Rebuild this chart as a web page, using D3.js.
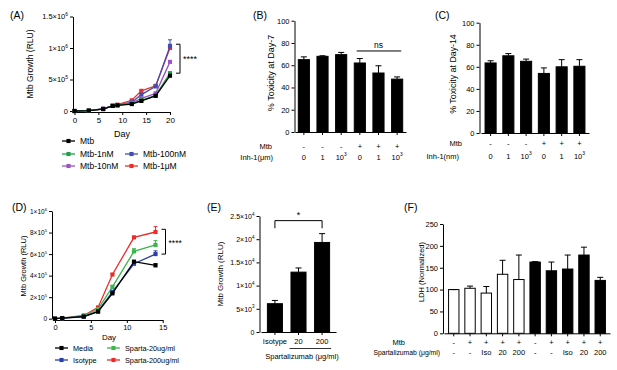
<!DOCTYPE html>
<html>
<head>
    <meta charset="utf-8">
    <title>Mtb growth and toxicity</title>
    <style>
        body { margin: 0; background: #fff; }
        svg text { font-family: Arial, "Liberation Sans", sans-serif; fill: #000; }
    </style>
</head>
<body>
<script src="https://d3js.org/d3.v7.min.js"></script>
<script>
// ---------------- data ----------------
// (A) Mtb growth with Inh-1
const daysA = [0, 3, 6, 8, 9, 12, 14, 17, 20];
const mtbA = [0, 5e3, 3.0e4, 8.0e4, 9.0e4, 1.10e5, 1.60e5, 2.40e5, 5.6e5];
const mtb1nM = [0, 5e3, 3.2e4, 8.0e4, 9.0e4, 1.20e5, 1.70e5, 2.50e5, 6.0e5];
const mtb10nM = [0, 5e3, 3.5e4, 8.5e4, 9.5e4, 1.30e5, 2.00e5, 2.80e5, 7.8e5];
const mtb100nM = [0, 5e3, 3.5e4, 8.0e4, 9.5e4, 1.40e5, 2.60e5, 3.90e5, 1.03e6];
const mtb1uM = [0, 5e3, 3.5e4, 8.5e4, 1.0e5, 1.70e5, 3.20e5, 4.00e5, 1.0e6];
const errMtbA = [0, 0, 0, 0, 0, 0, 0, 1e4, 2e4];
const err1nM = [0, 0, 0, 0, 0, 0, 0, 1e4, 2e4];
const err10nM = [0, 0, 0, 0, 0, 0, 1e4, 1e4, 2e4];
const err100nM = [0, 0, 0, 0, 0, 1e4, 2e4, 2e4, 1.0e5];
const err1uM = [0, 0, 0, 0, 0, 1e4, 1e4, 2e4, 6e4];
const yTicksA = [0, 5e5, 1e6, 1.5e6];
const yLabelsA = ["0", "5×10^5", "1×10^6", "1.5×10^6"];
const xTicksA = [0, 5, 10, 15, 20];

// (B) and (C) toxicity
const mtbSigns = ["-", "-", "-", "+", "+", "+"];
const inhDoses = ["0", "1", "10^3", "0", "1", "10^3"];
const toxDay7 = [65, 68, 69.5, 62, 53, 47.5];
const toxDay7Err = [2.5, 0.5, 2, 4, 6.5, 2];
const toxDay14 = [63.5, 70, 65, 54, 60, 60.5];
const toxDay14Err = [2, 2, 2, 5, 6.5, 6];
const pctTicks = [0, 20, 40, 60, 80, 100];

// (D) Mtb growth with spartalizumab
const daysD = [0, 1, 4, 6, 8, 11, 14];
const media = [0, 5e3, 2.0e4, 6.5e4, 2.35e5, 5.3e5, 4.95e5];
const isotype = [0, 5e3, 1.8e4, 7.0e4, 2.50e5, 5.1e5, 6.0e5];
const sparta20 = [0, 5e3, 2.5e4, 9.0e4, 2.95e5, 6.25e5, 6.85e5];
const sparta200 = [0, 5e3, 3.0e4, 1.05e5, 4.10e5, 7.55e5, 8.05e5];
const errMedia = [0, 0, 0, 0, 1e4, 1e4, 1.5e4];
const errIsotype = [0, 0, 0, 0, 1e4, 1e4, 3e4];
const errSparta20 = [0, 0, 0, 0, 1.5e4, 2.5e4, 4e4];
const errSparta200 = [0, 0, 0, 0, 1e4, 1e4, 5e4];
const yTicksD = [0, 2e5, 4e5, 6e5, 8e5, 1e6];
const yLabelsD = ["0", "2×10^5", "4×10^5", "6×10^5", "8×10^5", "1×10^6"];
const xTicksD = [0, 5, 10, 15];

// (E) growth at one timepoint
const groupsE = ["Isotype", "20", "200"];
const growthE = [6.1e3, 1.29e4, 1.93e4];
const growthEErr = [0.7e3, 0.9e3, 1.9e3];
const yTicksE = [0, 5e3, 1e4, 1.5e4, 2e4, 2.5e4];
const yLabelsE = ["0", "5×10^3", "1×10^4", "1.5×10^4", "2×10^4", "2.5×10^4"];

// (F) LDH
const mtbSignsF = ["-", "+", "+", "+", "+", "-", "+", "+", "+", "+"];
const spartaF = ["-", "-", "Iso", "20", "200", "-", "-", "Iso", "20", "200"];
const ldh = [100, 103, 92, 135, 123, 163, 143, 147, 179, 121];
const ldhErr = [0, 5, 15, 32, 56, 1, 20, 32, 18, 7];
const yTicksF = [0, 50, 100, 150, 200, 250];

// ---------------- helpers ----------------
const svg = d3.select("body").append("svg")
    .attr("width", 617)
    .attr("height", 370);

// write "5×10^5" as text with a superscript
function supText(sel, str, fs) {
    const parts = str.split("^");
    sel.text(null);
    sel.append("tspan").text(parts[0]);
    if (parts.length > 1) {
        sel.append("tspan").attr("dy", -fs * 0.45).attr("font-size", fs * 0.65).text(parts[1]);
    }
}

function yAxis(x, y, vals, labels, fs) {
    const g = svg.append("g")
        .attr("transform", "translate(" + x + ",0)")
        .call(d3.axisLeft(y).tickValues(vals).tickSize(3).tickSizeOuter(0).tickPadding(2)
            .tickFormat((d, i) => labels[i]));
    g.attr("font-family", null).attr("font-size", fs);
    g.selectAll(".tick text").each(function(d, i) { supText(d3.select(this), labels[i], fs); });
    return g;
}

function xAxis(y, scale, vals, fs) {
    const ax = d3.axisBottom(scale).tickSize(3).tickSizeOuter(0).tickPadding(2);
    if (vals) ax.tickValues(vals); else ax.tickFormat("");
    const g = svg.append("g")
        .attr("transform", "translate(0," + y + ")")
        .call(ax);
    g.attr("font-family", null).attr("font-size", fs);
    return g;
}

function yTitle(x, y, str, fs) {
    svg.append("text")
        .attr("transform", "translate(" + x + "," + y + ") rotate(-90)")
        .attr("text-anchor", "middle")
        .attr("font-size", fs)
        .text(str);
}

function label(x, y, str, fs, anchor) {
    const t = svg.append("text")
        .attr("x", x).attr("y", y)
        .attr("font-size", fs)
        .attr("text-anchor", anchor || "start");
    supText(t, str, fs);
    return t;
}

const square = d3.symbol().type(d3.symbolSquare).size(17);

function drawSeries(x, y, days, s) {
    const g = svg.append("g");
    g.append("path")
        .datum(s.values)
        .attr("fill", "none")
        .attr("stroke", s.color)
        .attr("stroke-width", 1.3)
        .attr("d", d3.line().x((d, i) => x(days[i])).y(d => y(d)));
    // error bars (upper only)
    g.selectAll("eb")
        .data(s.values)
        .enter()
        .filter((d, i) => s.err[i] > 0)
        .append("path")
        .attr("fill", "none")
        .attr("stroke", s.color)
        .attr("stroke-width", 1)
        .attr("d", function(d) {
            const i = s.values.indexOf(d);
            const cx = x(days[i]), y0 = y(d), y1 = y(d + s.err[i]);
            return "M" + cx + "," + y0 + "V" + y1 + "M" + (cx - 2) + "," + y1 + "H" + (cx + 2);
        });
    g.selectAll("pt")
        .data(s.values)
        .enter()
        .append("path")
        .attr("d", square)
        .attr("fill", s.color)
        .attr("transform", (d, i) => "translate(" + x(days[i]) + "," + y(d) + ")");
}

function legendItem(x, y, name, color, fs) {
    svg.append("line")
        .attr("x1", x).attr("x2", x + 13)
        .attr("y1", y).attr("y2", y)
        .attr("stroke", color).attr("stroke-width", 1.3);
    svg.append("path")
        .attr("d", square)
        .attr("fill", color)
        .attr("transform", "translate(" + (x + 6.5) + "," + y + ")");
    svg.append("text")
        .attr("x", x + 18).attr("y", y + fs * 0.35)
        .attr("font-size", fs)
        .text(name);
}

function drawBars(x, y, values, errs, fillFn) {
    const bw = x.bandwidth();
    svg.selectAll("bar")
        .data(values)
        .enter()
        .append("rect")
        .attr("x", (d, i) => x(i) + 0.5)
        .attr("y", d => y(d))
        .attr("width", bw - 1)
        .attr("height", d => y(0) - y(d))
        .attr("fill", (d, i) => fillFn(i))
        .attr("stroke", "#000")
        .attr("stroke-width", 1);
    svg.selectAll("err")
        .data(values)
        .enter()
        .append("path")
        .attr("fill", "none")
        .attr("stroke", "#000")
        .attr("stroke-width", 1)
        .attr("d", function(d, i) {
            const cx = x(i) + bw / 2, y1 = y(d + errs[i]);
            return "M" + cx + "," + y(d) + "V" + y1 + "M" + (cx - 3) + "," + y1 + "H" + (cx + 3);
        });
}

// ---------------- (A) ----------------
const xA = d3.scaleLinear().domain([0, 20]).range([74.5, 170]);
const yA = d3.scaleLinear().domain([0, 1.5e6]).range([111, 16.5]);
yAxis(73, yA, yTicksA, yLabelsA, 7.5);
xAxis(112, xA, xTicksA, 8);
const seriesA = [
    { name: "Mtb-1μM", values: mtb1uM, err: err1uM, color: "#e8302e" },
    { name: "Mtb-100nM", values: mtb100nM, err: err100nM, color: "#3e4fb0" },
    { name: "Mtb-10nM", values: mtb10nM, err: err10nM, color: "#9b55be" },
    { name: "Mtb-1nM", values: mtb1nM, err: err1nM, color: "#1f9f4a" },
    { name: "Mtb", values: mtbA, err: errMtbA, color: "#000000" }
];
seriesA.forEach(s => drawSeries(xA, yA, daysA, s));
yTitle(33, 64, "Mtb Growth (RLU)", 8.5);
label(122, 137, "Day", 9, "middle");
label(10, 19, "(A)", 10.5);
svg.append("path")
    .attr("fill", "none").attr("stroke", "#000").attr("stroke-width", 1)
    .attr("d", "M" + (xA(20) + 6) + "," + yA(1.06e6) + "H" + (xA(20) + 10) + "V" + yA(6.0e5) + "H" + (xA(20) + 6));
label(xA(20) + 13, 62, "****", 9);
legendItem(62, 141, "Mtb", "#000000", 8.5);
legendItem(62, 154, "Mtb-1nM", "#1f9f4a", 8.5);
legendItem(125, 154, "Mtb-100nM", "#3e4fb0", 8.5);
legendItem(62, 166, "Mtb-10nM", "#9b55be", 8.5);
legendItem(125, 166, "Mtb-1μM", "#e8302e", 8.5);

// ---------------- (B) ----------------
const xB = d3.scaleBand().domain(d3.range(6)).range([295, 406]).paddingInner(0.35).paddingOuter(0.15);
const yB = d3.scaleLinear().domain([0, 100]).range([132, 20.7]);
yAxis(294.5, yB, pctTicks, pctTicks.map(String), 7.5);
xAxis(132, xB, null, 7);
drawBars(xB, yB, toxDay7, toxDay7Err, () => "#000");
svg.append("line")
    .attr("x1", xB(3) + 3).attr("x2", xB(5) + xB.bandwidth() - 2)
    .attr("y1", yB(72.8)).attr("y2", yB(72.8))
    .attr("stroke", "#000").attr("stroke-width", 1);
label((xB(3) + xB(5) + xB.bandwidth()) / 2, 47.5, "ns", 8.5, "middle");
mtbSigns.forEach((d, i) => label(xB(i) + xB.bandwidth() / 2, 149, d, 7.5, "middle"));
inhDoses.forEach((d, i) => label(xB(i) + xB.bandwidth() / 2, 159.5, d, 7.5, "middle"));
label(272, 149, "Mtb", 7.5, "end");
label(273, 159.5, "Inh-1(μm)", 7.5, "end");
yTitle(274, 73, "% Toxicity at Day-7", 9);
label(253, 19, "(B)", 10.5);

// ---------------- (C) ----------------
const xC = d3.scaleBand().domain(d3.range(6)).range([481, 589]).paddingInner(0.32).paddingOuter(0.2);
const yC = d3.scaleLinear().domain([0, 100]).range([133, 22.7]);
yAxis(479.5, yC, pctTicks, pctTicks.map(String), 7.5);
xAxis(133, xC, null, 7);
drawBars(xC, yC, toxDay14, toxDay14Err, () => "#000");
mtbSigns.forEach((d, i) => label(xC(i) + xC.bandwidth() / 2, 145.5, d, 7.5, "middle"));
inhDoses.forEach((d, i) => label(xC(i) + xC.bandwidth() / 2, 158.5, d, 7.5, "middle"));
label(462, 145.5, "Mtb", 7.5, "end");
label(459, 158.5, "Inh-1(nm)", 7.5, "end");
yTitle(456, 74, "% Toxicity at Day-14", 8.8);
label(435, 19, "(C)", 10.5);

// ---------------- (D) ----------------
const xD = d3.scaleLinear().domain([0, 15]).range([55, 162.7]);
const yD = d3.scaleLinear().domain([0, 1e6]).range([318.7, 211]);
yAxis(52, yD, yTicksD, yLabelsD, 6.5);
xAxis(320, xD, xTicksD, 7.5);
const seriesD = [
    { name: "Sparta-200ug/ml", values: sparta200, err: errSparta200, color: "#ee2b2b" },
    { name: "Sparta-20ug/ml", values: sparta20, err: errSparta20, color: "#3cb54a" },
    { name: "Isotype", values: isotype, err: errIsotype, color: "#2b3fa8" },
    { name: "Media", values: media, err: errMedia, color: "#000000" }
];
seriesD.forEach(s => drawSeries(xD, yD, daysD, s));
yTitle(26, 266, "Mtb Growth (RLU)", 7.5);
label(109, 340, "Day", 8, "middle");
label(12, 211, "(D)", 10.5);
svg.append("path")
    .attr("fill", "none").attr("stroke", "#000").attr("stroke-width", 1)
    .attr("d", "M" + (xD(14) + 6) + "," + yD(0.83e6) + "H" + (xD(14) + 10) + "V" + yD(0.6e6) + "H" + (xD(14) + 6));
label(xD(14) + 13, 246, "****", 8.5);
legendItem(55, 348, "Media", "#000000", 7.3);
legendItem(107, 348, "Sparta-20ug/ml", "#3cb54a", 7.3);
legendItem(55, 360, "Isotype", "#2b3fa8", 7.3);
legendItem(107, 360, "Sparta-200ug/ml", "#ee2b2b", 7.3);

// ---------------- (E) ----------------
const xE = d3.scaleBand().domain(d3.range(3)).range([261, 336]).paddingInner(0.32).paddingOuter(0.25);
const yE = d3.scaleLinear().domain([0, 2.5e4]).range([332, 216]);
yAxis(259.5, yE, yTicksE, yLabelsE, 7);
xAxis(332, xE, null, 7);
drawBars(xE, yE, growthE, growthEErr, () => "#000");
groupsE.forEach((d, i) => label(xE(i) + xE.bandwidth() / 2, 344, d, 7.5, "middle"));
svg.append("line")
    .attr("x1", xE(1) - 1).attr("x2", xE(2) + xE.bandwidth() + 1)
    .attr("y1", 348.5).attr("y2", 348.5)
    .attr("stroke", "#000").attr("stroke-width", 0.8);
label(302, 359, "Spartalizumab (μg/ml)", 7.5, "middle");
const cE0 = xE(0) + xE.bandwidth() / 2, cE2 = xE(2) + xE.bandwidth() / 2;
svg.append("path")
    .attr("fill", "none").attr("stroke", "#000").attr("stroke-width", 1)
    .attr("d", "M" + cE0 + "," + yE(2.235e4) + "V" + yE(2.4e4) + "H" + cE2 + "V" + yE(2.235e4));
label((cE0 + cE2) / 2, 218, "*", 9, "middle");
yTitle(223, 274, "Mtb Growth (RLU)", 8);
label(207, 211, "(E)", 10.5);

// ---------------- (F) ----------------
const xF = d3.scaleBand().domain(d3.range(10)).range([444, 610]).paddingInner(0.3).paddingOuter(0.25);
const yF = d3.scaleLinear().domain([0, 250]).range([333.3, 224]);
yAxis(443, yF, yTicksF, yTicksF.map(String), 7.5);
xAxis(333.3, xF, null, 7);
drawBars(xF, yF, ldh, ldhErr, i => i < 5 ? "#fff" : "#000");
mtbSignsF.forEach((d, i) => label(xF(i) + xF.bandwidth() / 2, 345, d, 7.5, "middle"));
spartaF.forEach((d, i) => label(xF(i) + xF.bandwidth() / 2, 354.5, d, 7.5, "middle"));
label(405, 345, "Mtb", 7.5, "end");
label(440, 354.5, "Spartalizumab (μg/ml)", 6.8, "end");
yTitle(424, 272, "LDH (Normalized)", 7.5);
label(404, 211, "(F)", 10.5);
</script>
</body>
</html>
